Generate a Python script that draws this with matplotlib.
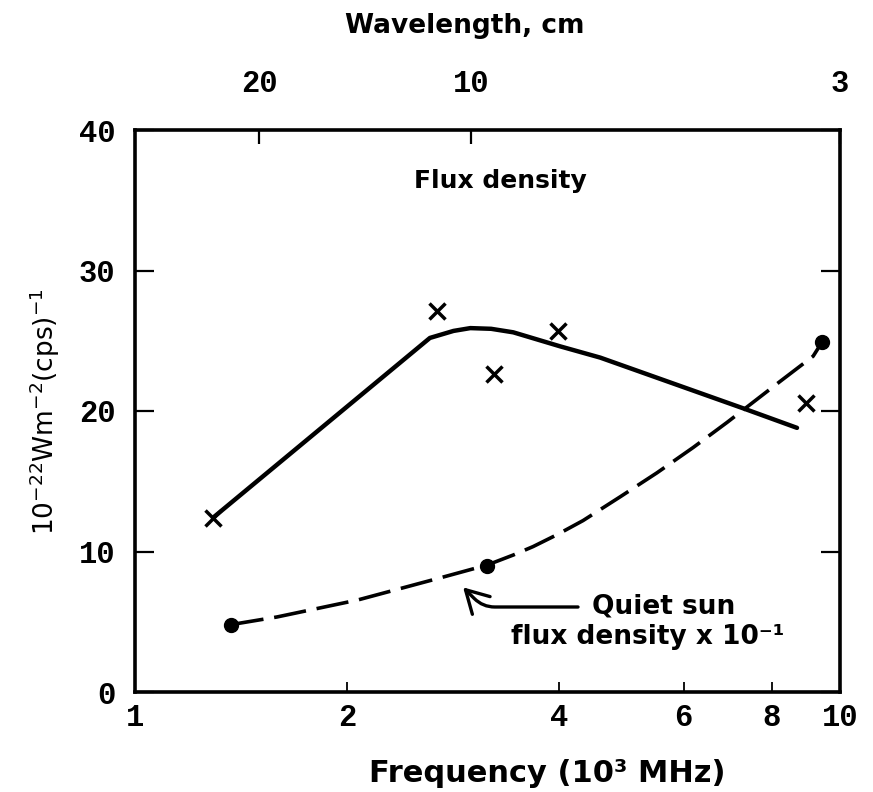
import matplotlib
matplotlib.use("Agg")
import matplotlib.pyplot as plt
import numpy as np

# Data (frequency in 10^3 MHz, flux density)
cross_f = [1.29, 2.68, 3.23, 3.98, 8.95]
cross_s = [12.4, 27.1, 22.6, 25.7, 20.6]

solid_f = [1.29, 2.62, 2.83, 2.99, 3.20, 3.44, 4.01, 4.57, 7.28, 8.69]
solid_s = [12.4, 25.2, 25.7, 25.9, 25.85, 25.6, 24.6, 23.8, 20.2, 18.8]

quiet_dot_f = [1.37, 3.16, 9.43]
quiet_dot_s = [4.8, 9.0, 24.9]

dashed_f = [1.37, 1.59, 2.07, 2.74, 3.16, 3.44, 3.67, 3.97, 4.32, 4.88, 5.50, 6.19, 6.92, 8.22, 9.16, 9.43]
dashed_s = [4.8, 5.34, 6.55, 8.19, 9.04, 9.75, 10.35, 11.2, 12.2, 13.9, 15.6, 17.4, 19.2, 22.1, 23.9, 24.9]

x_ticks = [1, 2, 4, 6, 8, 10]
y_ticks = [0, 10, 20, 30, 40]
wavelength_ticks = [20, 10, 3]

W, H = 873, 792
fig = plt.figure(figsize=(W / 100, H / 100), dpi=100)
L, R, T, B = 135, 840, 130, 692
ax = fig.add_axes([L / W, 1 - B / H, (R - L) / W, (B - T) / H])

tick_font = dict(family="Liberation Mono", weight="bold", size=22)
label_font = dict(family="DejaVu Sans", weight="bold")

ax.plot(solid_f, solid_s, color="black", lw=3.2, solid_capstyle="round", solid_joinstyle="round")
ax.plot(cross_f, cross_s, linestyle="none", marker="x", ms=12, mew=2.5, color="black")
ax.plot(dashed_f, dashed_s, color="black", lw=2.6, dashes=(9, 3))
ax.plot(quiet_dot_f, quiet_dot_s, linestyle="none", marker="o", ms=10, color="black")

ax.set_xscale("log")
ax.set_xlim(1, 10)
ax.set_ylim(0, 40)
ax.set_xticks(x_ticks)
ax.set_xticklabels([str(v) for v in x_ticks], fontdict=tick_font)
ax.xaxis.set_minor_locator(matplotlib.ticker.NullLocator())
ax.set_yticks(y_ticks)
ax.set_yticklabels([str(v) for v in y_ticks], fontdict=tick_font)
ax.tick_params(axis="x", direction="in", length=7, width=1.3, pad=8, top=True)
ax.tick_params(axis="y", direction="in", length=14, width=1.6, pad=14, right=True)
for s in ax.spines.values():
    s.set_linewidth(2.6)

# top wavelength axis
axt = ax.twiny()
axt.set_xscale("log")
axt.set_xlim(1, 10)
axt.set_xticks([30.0 / w for w in wavelength_ticks])
axt.set_xticklabels([str(w) for w in wavelength_ticks], fontdict=tick_font)
axt.xaxis.set_minor_locator(matplotlib.ticker.NullLocator())
axt.tick_params(axis="x", direction="in", length=10, width=1.6, pad=22)
for s in axt.spines.values():
    s.set_visible(False)

ax.text(3.3, 36.4, "Flux density", ha="center", va="center", fontsize=18, **label_font)

ax.text(5.62, 6.05, "Quiet sun", ha="center", va="center", fontsize=19, **label_font)
ax.text(5.34, 3.91, "flux density x 10\u207b\u00b9", ha="center", va="center", fontsize=19, **label_font)
ax.annotate("", xy=(2.92, 7.45), xytext=(4.25, 6.05),
            arrowprops=dict(arrowstyle="->,head_length=0.8,head_width=0.45", lw=2.4,
                            color="black", shrinkA=0, shrinkB=0, mutation_scale=20,
                            connectionstyle="angle,angleA=0,angleB=-45,rad=12"))

fig.text(465 / W, 1 - 26 / H, "Wavelength, cm", ha="center", va="center", fontsize=19, **label_font)
fig.text(547 / W, 1 - 773 / H, "Frequency (10\u00b3 MHz)", ha="center", va="center", fontsize=22, **label_font)
fig.text(45 / W, 1 - 412 / H, r"$\mathregular{10^{-22}Wm^{-2}(cps)^{-1}}$", ha="center", va="center",
         rotation=90, fontsize=19, family="DejaVu Sans")

fig.savefig("out.png", dpi=100)
